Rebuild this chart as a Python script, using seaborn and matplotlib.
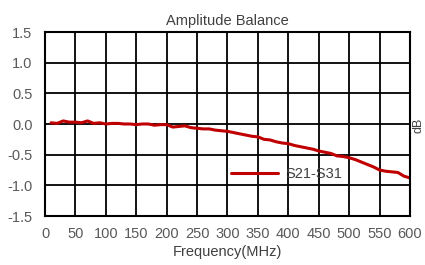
import numpy as np
import pandas as pd
import matplotlib
matplotlib.use("Agg")
import matplotlib.pyplot as plt
import seaborn as sns

# ---- data ----
freq_mhz = [10, 20, 30, 40, 50, 60, 70, 80, 90, 100,
            110, 120, 130, 140, 150, 160, 170, 180, 190, 200,
            210, 220, 230, 240, 250, 260, 270, 280, 290, 300,
            310, 320, 330, 340, 350, 360, 370, 380, 390, 400,
            410, 420, 430, 440, 450, 460, 470, 480, 490, 500,
            510, 520, 530, 540, 550, 560, 570, 580, 590, 600]
balance_db = [0.02, 0.01, 0.05, 0.03, 0.03, 0.02, 0.05, 0.01, 0.02, 0.00,
              0.01, 0.01, 0.00, 0.00, -0.01, 0.00, 0.00, -0.02, -0.01, -0.01,
              -0.05, -0.04, -0.03, -0.06, -0.07, -0.08, -0.08, -0.10, -0.11, -0.12,
              -0.14, -0.16, -0.18, -0.20, -0.21, -0.25, -0.26, -0.29, -0.31, -0.32,
              -0.35, -0.37, -0.39, -0.41, -0.44, -0.46, -0.48, -0.52, -0.53, -0.55,
              -0.58, -0.62, -0.66, -0.70, -0.75, -0.77, -0.78, -0.79, -0.85, -0.88]
series_name = "S21-S31"
x_ticks = list(range(0, 601, 50))
y_ticks = [1.5, 1.0, 0.5, 0.0, -0.5, -1.0, -1.5]

df = pd.DataFrame({"Frequency": freq_mhz, "Balance": balance_db, "Series": series_name})

sns.set_style("white")
plt.rcParams["font.family"] = ["Liberation Sans", "DejaVu Sans"]

fig = plt.figure(figsize=(4.25, 2.65), dpi=100)
ax = fig.add_axes([45 / 425, 1 - 216 / 265, 365 / 425, 184 / 265])

sns.lineplot(data=df, x="Frequency", y="Balance", hue="Series",
             palette=["#C00000"], linewidth=2.2, ax=ax)

ax.set_xlim(0, 600)
ax.set_ylim(-1.5, 1.5)
ax.set_xticks(x_ticks)
ax.set_yticks(y_ticks)
ax.set_yticklabels([f"{v:.1f}" for v in y_ticks])
ax.grid(True, color="black", linewidth=1.3)
ax.set_axisbelow(True)
for s in ax.spines.values():
    s.set_color("black")
    s.set_linewidth(1.5)
ax.tick_params(axis="both", length=0, labelsize=10.5, colors="#595959")
ax.tick_params(axis="x", pad=8)
ax.tick_params(axis="y", pad=9)

ax.set_title("Amplitude Balance", fontsize=10.5, color="#404040", pad=5)
ax.set_xlabel("Frequency(MHz)", fontsize=10.5, color="#404040", labelpad=3)
ax.set_ylabel("")
fig.text(412 / 425, 1 - 125 / 265, "dB", rotation=90, fontsize=9,
         color="#404040", ha="left", va="center")

ax.legend(loc="center left", bbox_to_anchor=(0.475, 0.23), frameon=False,
          fontsize=10.5, handlelength=3.2, handletextpad=0.5,
          labelcolor="#404040")

plt.savefig("out.png", dpi=100)
